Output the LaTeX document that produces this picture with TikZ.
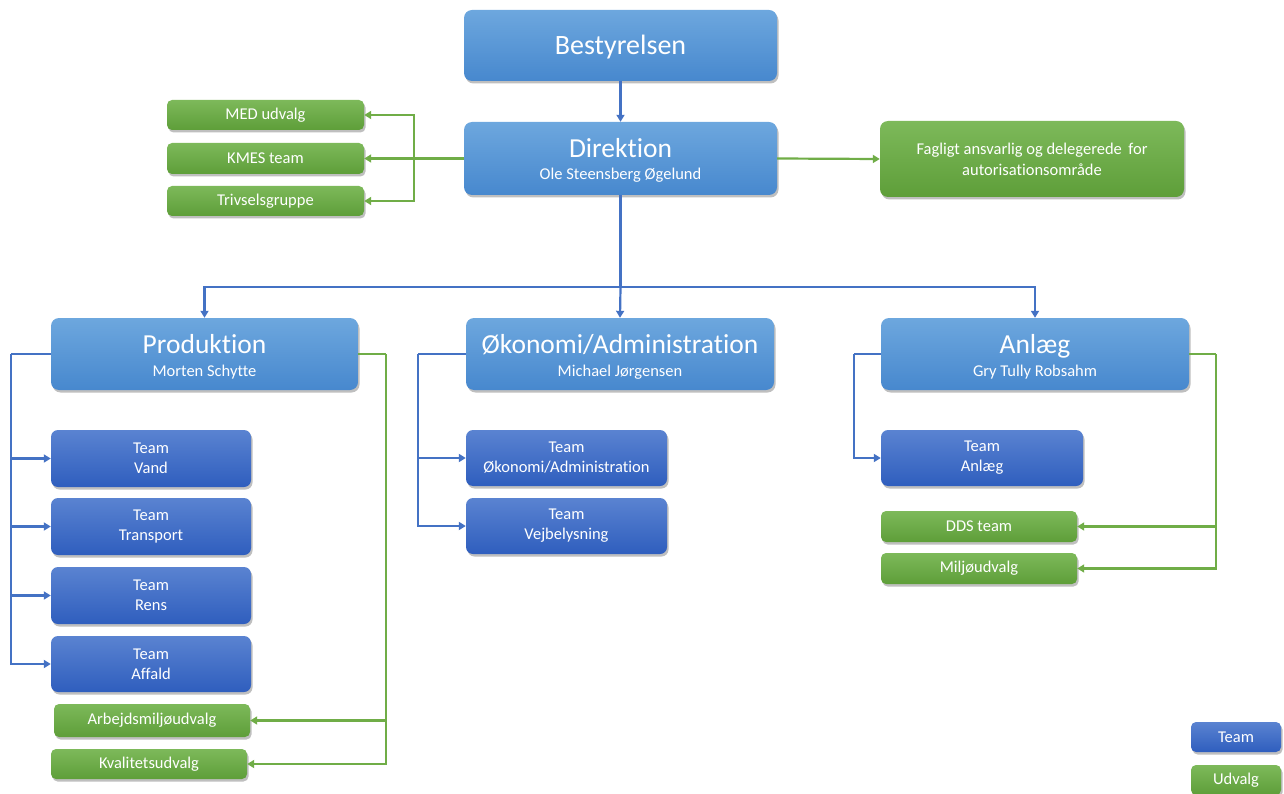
\documentclass[tikz,border=0pt]{standalone}
\usepackage{fontspec}
\setmainfont{Carlito}[Ligatures=NoCommon]
\usetikzlibrary{shadows,arrows.meta}
\definecolor{lbT}{HTML}{6DA7DE}
\definecolor{lbB}{HTML}{4788CE}
\definecolor{dbT}{HTML}{5A83D1}
\definecolor{dbB}{HTML}{2F5EBE}
\definecolor{gnT}{HTML}{7DB95A}
\definecolor{gnB}{HTML}{5E9E39}
\definecolor{lnB}{HTML}{4472C4}
\definecolor{lnG}{HTML}{70AD47}
\tikzset{
  box/.style={rounded corners=8pt, inner sep=0pt, align=center, text=white,
    drop shadow={shadow xshift=1.5pt, shadow yshift=-2.5pt, opacity=0.25, fill=black}},
  head/.style={box, shading=axis, top color=lbT, bottom color=lbB,
    minimum width=310pt, minimum height=72pt},
  teambox/.style={box, rounded corners=7pt, shading=axis, top color=dbT, bottom color=dbB,
    minimum width=200pt, minimum height=56pt, font=\fontsize{16.5}{20}\selectfont},
  udv/.style={box, rounded corners=5pt, shading=axis, top color=gnT, bottom color=gnB,
    minimum width=197pt, minimum height=31pt, font=\fontsize{16.5}{20}\selectfont},
  ttl/.style={anchor=base, inner sep=0pt, text=white, font=\fontsize{27.5}{30}\selectfont},
  subt/.style={anchor=base, inner sep=0pt, text=white, font=\fontsize{16.5}{20}\selectfont},
  bl/.style={draw=lnB, line width=2.2pt},
  gr/.style={draw=lnG, line width=2.2pt},
  arr/.style={-{Triangle[length=7pt,width=8pt]}}
}
\begin{document}
\begin{tikzpicture}[x=1pt,y=-1pt]
\useasboundingbox (0,0) rectangle (1284,794);
% top
\node[head, minimum width=313pt, minimum height=71pt] (best) at (620.5,45.5) {};
\node[ttl, font=\fontsize{28}{32}\selectfont] (best-t) at ([yshift=-9.5pt]best.center) {Bestyrelsen};
\node[head, minimum width=313pt, minimum height=73pt] (dir) at (620.5,158.5) {};
\node[ttl] (dir-t) at ([yshift=0.5pt]dir.center) {Direktion};
\node[subt] (dir-s) at ([yshift=-21.5pt]dir.center) {Ole Steensberg Øgelund};
\node[udv, rounded corners=8pt, minimum width=304pt, minimum height=76pt, font=\fontsize{16.5}{21}\selectfont] (fag) at (1032,159) {Fagligt ansvarlig og delegerede\, for\\autorisationsområde};
\node[udv, minimum height=30pt] (med) at (265.5,115) {MED udvalg};
\node[udv] (kmes) at (265.5,158.5) {KMES team};
\node[udv, minimum height=30pt] (triv) at (265.5,201) {Trivselsgruppe};
% second level
\node[head, minimum width=307pt] (prod) at (204.5,354) {};
\node[ttl] (prod-t) at ([yshift=1pt]prod.center) {Produktion};
\node[subt] (prod-s) at ([yshift=-22pt]prod.center) {Morten Schytte};
\node[head, minimum width=308pt] (oko) at (620,354) {};
\node[ttl] (oko-t) at ([yshift=1pt]oko.center) {Økonomi/Administration};
\node[subt] (oko-s) at ([yshift=-22pt]oko.center) {Michael Jørgensen};
\node[head, minimum width=308pt] (anl) at (1035,354) {};
\node[ttl] (anl-t) at ([yshift=1pt]anl.center) {Anlæg};
\node[subt] (anl-s) at ([yshift=-22pt]anl.center) {Gry Tully Robsahm};
% teams
\node[teambox, minimum height=57pt] (vand) at (151,458.5) {Team\\Vand};
\node[teambox, minimum height=57pt] (trans) at (151,526.5) {Team\\Transport};
\node[teambox, minimum height=57pt] (rens) at (151,595.5) {Team\\Rens};
\node[teambox] (affald) at (151,664) {Team\\Affald};
\node[udv, minimum width=196pt, minimum height=33pt] (arb) at (152,720.5) {Arbejdsmiljøudvalg};
\node[udv, minimum width=196pt, minimum height=30pt] (kval) at (149,764) {Kvalitetsudvalg};
\node[teambox, minimum width=201pt] (tok) at (566.5,458) {Team\\Økonomi/Administration};
\node[teambox, minimum width=201pt] (tvej) at (566.5,526) {Team\\Vejbelysning};
\node[teambox, minimum width=202pt] (tanl) at (982,458) {Team\\Anlæg};
\node[udv, minimum width=196pt, minimum height=31pt] (dds) at (979,526.5) {DDS team};
\node[udv, minimum width=196pt, minimum height=31pt] (milj) at (979,568.5) {Miljøudvalg};
% legend
\node[teambox, rounded corners=5pt, minimum width=90pt, minimum height=30pt] (lteam) at (1236,737) {Team};
\node[udv, minimum width=90pt, minimum height=30pt] (ludv) at (1236,780) {Udvalg};
% junction coordinates
\coordinate (dl) at (414,158.5);
\coordinate (bus) at (620.5,287);
\coordinate (pl) at (11,354);
\coordinate (pr) at (386,354);
\coordinate (ol) at (418,354);
\coordinate (al) at (854,354);
\coordinate (ar) at (1216,354);
% connectors
\draw[bl,arr] (best) -- (dir);
\draw[gr] (dir.west) -- (dl);
\draw[gr,arr] (dl) |- (med.east);
\draw[gr,arr] (dl) -- (kmes.east);
\draw[gr,arr] (dl) |- (triv.east);
\draw[gr,arr] (dir.east) -- (fag.west);
\draw[bl] (dir.south) -- (bus);
\draw[bl,arr] (bus) -| (prod.north);
\draw[bl,arr] (bus) -- (oko.north);
\draw[bl,arr] (bus) -| (anl.north);
\draw[bl] (prod.west) -- (pl);
\draw[bl,arr] (pl) |- (vand.west);
\draw[bl,arr] (pl) |- (trans.west);
\draw[bl,arr] (pl) |- (rens.west);
\draw[bl,arr] (pl) |- (affald.west);
\draw[gr] (prod.east) -- (pr);
\draw[gr,arr] (pr) |- (arb.east);
\draw[gr,arr] (pr) |- (kval.east);
\draw[bl] (oko.west) -- (ol);
\draw[bl,arr] (ol) |- (tok.west);
\draw[bl,arr] (ol) |- (tvej.west);
\draw[bl] (anl.west) -- (al);
\draw[bl,arr] (al) |- (tanl.west);
\draw[gr] (anl.east) -- (ar);
\draw[gr,arr] (ar) |- (dds.east);
\draw[gr,arr] (ar) |- (milj.east);
\end{tikzpicture}
\end{document}
